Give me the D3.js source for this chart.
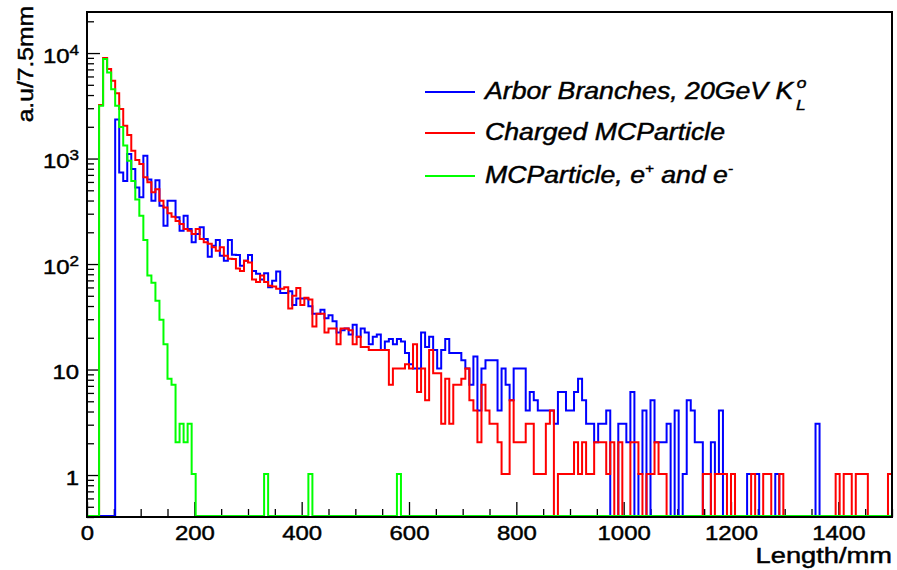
<!DOCTYPE html>
<html>
<head>
<meta charset="utf-8">
<script src="https://d3js.org/d3.v7.min.js"></script>
<style>
    body { margin: 0; background: #fff; }
    svg { display: block; }
    text { font-family: "Liberation Sans", Arial, sans-serif; fill: #000; stroke: #000; stroke-width: 0.45px; }
</style>
</head>
<body>
<svg id="chart"></svg>
<script>
// bin width is 7.5 mm, 200 bins from 0 to 1500 mm
const binWidth = 7.5;
const xTicks = [0, 200, 400, 600, 800, 1000, 1200, 1400];
const xMinorTicks = d3.range(0, 1501, 50);
const yTicks = [1, 10, 100, 1000, 10000];
const yTickExponents = ['', '', '2', '3', '4'];
const yTickBases = ['1', '10', '10', '10', '10'];

const legendLabels = ['Arbor Branches, 20GeV K', 'Charged MCParticle', 'MCParticle, e'];

// Arbor Branches, 20GeV K0L (blue)
const arbor = [
    0, 0, 0, 0, 0, 0, 0, 2300, 720, 600, 1080, 780, 520, 420, 1040, 620, 390, 610, 350, 226,
    390, 390, 271, 202, 281, 210, 157, 188, 218, 169, 115, 146, 165, 117, 105, 165, 120, 119, 94, 105,
    119, 84, 79, 70, 80, 59, 68, 83, 52, 52, 54, 40, 46, 46, 46, 39, 33, 33, 36, 30,
    32, 28, 22, 23, 24, 21, 26, 20, 24, 22, 17, 20, 21, 15, 18, 19, 17, 19, 18, 14,
    11, 10, 10, 22, 16, 20, 15, 10, 15, 19, 14, 14, 14, 12, 10, 7, 13, 4, 10, 12,
    12, 12, 4, 10, 7, 5, 10, 10, 10, 4, 6, 5, 4, 4, 4, 4, 3, 6, 6, 4,
    4, 6, 8, 5, 3, 3, 2, 3, 3, 4, 0, 0, 3, 3, 2, 6, 0, 1, 4, 0,
    5, 2, 2, 2, 3, 0, 4, 0, 1, 5, 4, 2, 2, 0, 0, 2, 1, 4, 0, 0,
    0, 0, 0, 0, 1, 1, 1, 0, 0, 0, 0, 1, 0, 0, 0, 0, 0, 0, 0, 0,
    0, 3, 0, 0, 0, 0, 0, 0, 0, 0, 0, 0, 0, 0, 0, 0, 0, 0, 0, 0
];

// Charged MCParticle (red)
const charged = [
    0, 0, 0, 3150, 8800, 6900, 5350, 4060, 2880, 2000, 1640, 1160, 946, 867, 649, 582, 468, 500, 390, 337,
    296, 275, 251, 234, 210, 202, 188, 210, 169, 157, 152, 141, 131, 141, 117, 110, 109, 89, 84, 105,
    101, 70, 66, 76, 66, 61, 60, 57, 57, 59, 37, 49, 58, 40, 47, 45, 25, 33, 33, 22,
    24, 24, 17, 24, 24, 23, 17, 20, 16, 16, 15, 15, 15, 15, 15, 7, 10, 10, 10, 11,
    10, 17, 6, 10, 5, 15, 9, 9, 3, 8, 3, 7, 7, 8, 10, 5, 4, 2, 7, 4,
    3, 3, 2, 1, 1, 5, 2, 2, 2, 3, 3, 1, 1, 1, 3, 4, 0, 1, 1, 1,
    1, 2, 1, 2, 1, 1, 2, 2, 2, 1, 2, 0, 2, 0, 0, 2, 2, 1, 0, 1,
    1, 2, 1, 1, 0, 0, 0, 0, 0, 0, 0, 0, 0, 1, 1, 0, 1, 1, 1, 0,
    1, 0, 0, 0, 0, 1, 0, 0, 1, 1, 0, 0, 1, 0, 0, 0, 0, 0, 0, 0,
    0, 0, 0, 0, 0, 0, 1, 0, 1, 1, 0, 1, 1, 1, 0, 0, 0, 0, 0, 1
];

// MCParticle, e+ and e- (green)
const electrons = [
    0, 0, 0, 3100, 8600, 6400, 4450, 3100, 1950, 1300, 930, 600, 400, 280, 165, 76, 65, 44, 29, 17,
    8, 7, 2, 3, 2, 3, 1, 0, 0, 0, 0, 0, 0, 0, 0, 0, 0, 0, 0, 0,
    0, 0, 0, 0, 1, 0, 0, 0, 0, 0, 0, 0, 0, 0, 0, 1, 0, 0, 0, 0,
    0, 0, 0, 0, 0, 0, 0, 0, 0, 0, 0, 0, 0, 0, 0, 0, 0, 1, 0, 0,
    0, 0, 0, 0, 0, 0, 0, 0, 0, 0, 0, 0, 0, 0, 0, 0, 0, 0, 0, 0,
    0, 0, 0, 0, 0, 0, 0, 0, 0, 0, 0, 0, 0, 0, 0, 0, 0, 0, 0, 0,
    0, 0, 0, 0, 0, 0, 0, 0, 0, 0, 0, 0, 0, 0, 0, 0, 0, 0, 0, 0,
    0, 0, 0, 0, 0, 0, 0, 0, 0, 0, 0, 0, 0, 0, 0, 0, 0, 0, 0, 0,
    0, 0, 0, 0, 0, 0, 0, 0, 0, 0, 0, 0, 0, 0, 0, 0, 0, 0, 0, 0,
    0, 0, 0, 0, 0, 0, 0, 0, 0, 0, 0, 0, 0, 0, 0, 0, 0, 0, 0, 0
];

const width = 897;
const height = 570;
const frame = { left: 87, right: 892, top: 12, bottom: 517 };
const yMin = 0.4;
const yMax = 24500;
const stretch = 1.14;   // the original text is a bit wider than Arial

const svg = d3.select('#chart')
    .attr('width', width)
    .attr('height', height);

const x = d3.scaleLinear().domain([0, 200 * binWidth]).range([frame.left, frame.right]);
const y = d3.scaleLog().domain([yMin, yMax]).range([frame.bottom, frame.top]);

drawAxes();
drawHist(arbor, '#0000ff');
drawHist(charged, '#ff0000');
drawHist(electrons, '#00ff00');
drawFrame();
drawLegend();
drawTitles();

function drawHist(values, color) {
    let pts = values.map((v, i) => [i * binWidth, v]);
    pts.push([values.length * binWidth, values[values.length - 1]]);

    let line = d3.line()
        .x(d => x(d[0]))
        .y(d => y(Math.max(d[1], yMin)) - 1)
        .curve(d3.curveStepAfter);

    svg.append('path')
        .attr('d', line(pts))
        .attr('fill', 'none')
        .attr('stroke', color)
        .attr('stroke-width', 2);
}

function drawAxes() {
    let xMajor = svg.append('g')
        .attr('transform', `translate(0,${frame.bottom})`)
        .call(d3.axisBottom(x).tickValues(xTicks).tickSize(-15).tickPadding(8).tickFormat(d3.format('d')));
    xMajor.select('.domain').remove();
    xMajor.selectAll('line').attr('stroke', '#000').attr('stroke-width', 1.3);
    xMajor.selectAll('text')
        .attr('font-size', 21)
        .attr('y', 23)
        .attr('dy', 0)
        .attr('transform', `scale(${stretch},1)`);

    let xMinor = svg.append('g')
        .attr('transform', `translate(0,${frame.bottom})`)
        .call(d3.axisBottom(x).tickValues(xMinorTicks.filter(d => d % 200 != 0)).tickSize(-8).tickFormat(''));
    xMinor.select('.domain').remove();
    xMinor.selectAll('line').attr('stroke', '#000').attr('stroke-width', 1.3);

    let minorVals = [];
    for (let e = -1; e <= 4; e++) {
        for (let k = 2; k <= 9; k++) {
            let v = k * Math.pow(10, e);
            if (v >= yMin && v <= yMax) minorVals.push(v);
        }
    }

    let yMinor = svg.append('g')
        .attr('transform', `translate(${frame.left},0)`)
        .call(d3.axisLeft(y).tickValues(minorVals).tickSize(-7).tickFormat(''));
    yMinor.select('.domain').remove();
    yMinor.selectAll('line').attr('stroke', '#000').attr('stroke-width', 1.3);

    let yMajor = svg.append('g')
        .attr('transform', `translate(${frame.left},0)`)
        .call(d3.axisLeft(y).tickValues(yTicks).tickSize(-13).tickFormat(''));
    yMajor.select('.domain').remove();
    yMajor.selectAll('line').attr('stroke', '#000').attr('stroke-width', 1.3);

    yMajor.selectAll('.tick').each(function (d, i) {
        let t = d3.select(this).append('text')
            .attr('text-anchor', 'end')
            .attr('font-size', 21)
            .attr('x', -7)
            .attr('y', 9)
            .attr('transform', `scale(${stretch},1)`);
        t.append('tspan').text(yTickBases[i]);
        if (yTickExponents[i] != '') {
            t.append('tspan')
                .attr('font-size', 15)
                .attr('dy', -8)
                .text(yTickExponents[i]);
        }
    });
}

function drawFrame() {
    svg.append('rect')
        .attr('x', frame.left)
        .attr('y', frame.top)
        .attr('width', frame.right - frame.left)
        .attr('height', frame.bottom - frame.top)
        .attr('fill', 'none')
        .attr('stroke', '#000')
        .attr('stroke-width', 2);
}

function drawLegend() {
    const colors = ['#0000ff', '#ff0000', '#00ff00'];
    const rows = [92, 133, 176];

    rows.forEach((ry, i) => {
        svg.append('line')
            .attr('x1', 425)
            .attr('x2', 475)
            .attr('y1', ry)
            .attr('y2', ry)
            .attr('stroke', colors[i])
            .attr('stroke-width', 2);

        let t = svg.append('text')
            .attr('transform', `translate(485,${ry + 7}) scale(1.16,1)`)
            .attr('font-size', 23)
            .attr('font-style', 'italic')
            .text(legendLabels[i]);

        if (i == 0) {
            t.append('tspan').attr('font-size', 15).attr('dx', 3).attr('dy', -11).text('o');
            t.append('tspan').attr('font-size', 15).attr('dx', -9).attr('dy', 22).text('L');
        }
        if (i == 2) {
            t.append('tspan').attr('font-size', 13).attr('dy', -10).text('+');
            t.append('tspan').attr('dy', 10).text(' and e');
            t.append('tspan').attr('font-size', 13).attr('dy', -10).text('-');
        }
    });
}

function drawTitles() {
    svg.append('text')
        .attr('transform', `translate(892,563) scale(1.24,1)`)
        .attr('text-anchor', 'end')
        .attr('font-size', 22)
        .text('Length/mm');

    svg.append('text')
        .attr('transform', `translate(33,6) rotate(-90) scale(1.12,1)`)
        .attr('text-anchor', 'end')
        .attr('font-size', 22)
        .text('a.u/7.5mm');
}
</script>
</body>
</html>
